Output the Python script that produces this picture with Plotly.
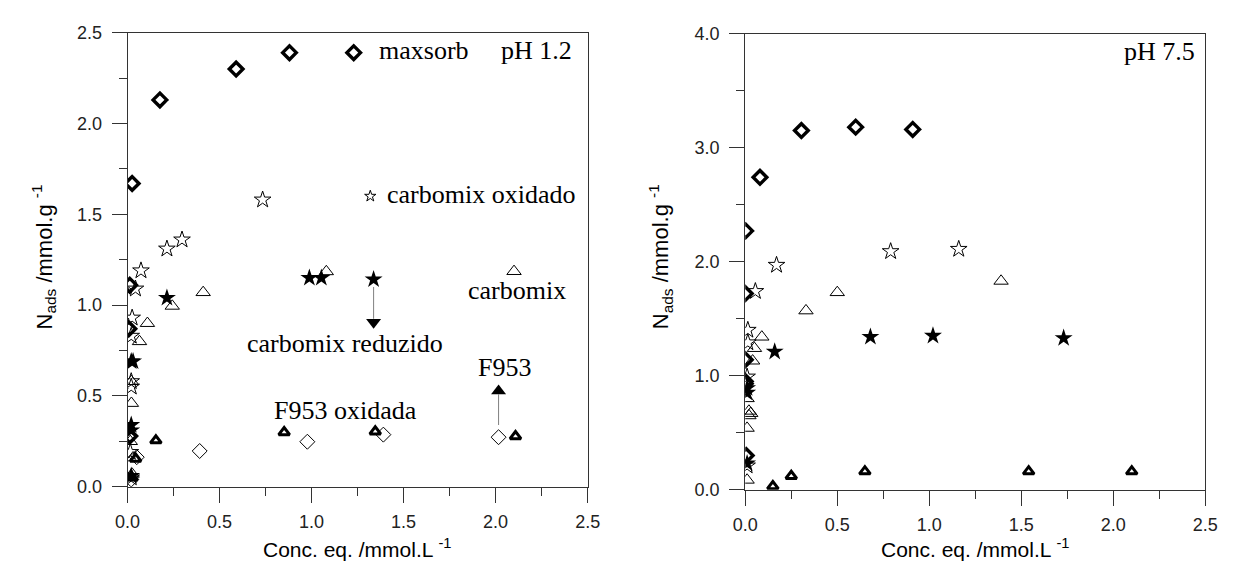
import plotly.graph_objects as go

# ---------------- pH 1.2 (left panel) ----------------
L_MAXSORB_X = [0.012, 0.007, 0.012, 0.025, 0.176, 0.59, 0.88]
L_MAXSORB_Y = [0.28, 0.87, 1.11, 1.67, 2.13, 2.30, 2.39]

L_OXIDADO_X = [0.02, 0.015, 0.02, 0.02, 0.02, 0.025, 0.043, 0.073, 0.214, 0.296, 0.734]
L_OXIDADO_Y = [0.05, 0.19, 0.55, 0.58, 0.83, 0.93, 1.09, 1.19, 1.31, 1.36, 1.58]

L_REDUZIDO_X = [0.02, 0.02, 0.02, 0.02, 0.03, 0.214, 0.988, 1.053]
L_REDUZIDO_Y = [0.06, 0.31, 0.34, 0.69, 0.69, 1.04, 1.15, 1.15]

L_CARBOMIX_X = [0.025, 0.03, 0.015, 0.021, 0.021, 0.065, 0.108, 0.243, 0.411, 1.08]
L_CARBOMIX_Y = [0.07, 0.16, 0.25, 0.46, 0.58, 0.80, 0.90, 0.995, 1.07, 1.185]

L_F953_X = [0.025, 0.044, 0.154, 0.851, 1.346, 2.108]
L_F953_Y = [0.05, 0.154, 0.255, 0.30, 0.304, 0.278]

L_F953OX_X = [0.02, 0.05, 0.392, 0.977, 1.39, 2.016]
L_F953OX_Y = [0.04, 0.163, 0.197, 0.248, 0.287, 0.273]

# in-plot key markers (left panel)
KEY_MAXSORB = (1.229, 2.39)
KEY_OXIDADO = (1.319, 1.60)
KEY_CARBOMIX = (2.10, 1.186)
KEY_REDUZIDO = (1.337, 1.142)

# ---------------- pH 7.5 (right panel) ----------------
R_MAXSORB_X = [0.005, 0.0, 0.0, 0.0, 0.0, 0.002, 0.08, 0.305, 0.60, 0.91]
R_MAXSORB_Y = [0.30, 0.93, 0.95, 1.14, 1.72, 2.27, 2.74, 3.15, 3.18, 3.16]

R_OXIDADO_X = [0.01, 0.01, 0.014, 0.014, 0.055, 0.17, 0.79, 1.16]
R_OXIDADO_Y = [0.21, 0.99, 1.29, 1.40, 1.74, 1.97, 2.09, 2.11]

R_REDUZIDO_X = [0.01, 0.01, 0.01, 0.16, 0.68, 1.02, 1.73]
R_REDUZIDO_Y = [0.23, 0.85, 0.89, 1.21, 1.34, 1.35, 1.33]

R_CARBOMIX_X = [0.01, 0.01, 0.02, 0.03, 0.02, 0.01, 0.04, 0.05, 0.09, 0.33, 0.50, 1.39]
R_CARBOMIX_Y = [0.085, 0.54, 0.65, 0.67, 0.69, 0.80, 1.13, 1.24, 1.34, 1.57, 1.73, 1.83]

R_F953_X = [0.15, 0.25, 0.65, 1.54, 2.10]
R_F953_Y = [0.03, 0.12, 0.16, 0.16, 0.16]

# arrows (left panel): tail, head-centre
ARROW_X = [1.337, 2.016]
ARROW_TAIL_Y = [1.10, 0.34]
ARROW_BASE_Y = [0.925, 0.51]
ARROW_HEAD_Y = [0.906, 0.527]
ARROW_SYMBOL = ["triangle-down", "triangle-up"]

TICK_FONT = dict(family="Liberation Sans, Arial", size=18, color="#222")
SERIF = dict(family="Liberation Serif, Times New Roman", size=26, color="black")
XT_FONT = dict(family="Liberation Sans, Arial", size=21, color="black")
YT_FONT = dict(family="Liberation Sans, Arial", size=22, color="black")

STYLES = {
    "maxsorb": dict(symbol="diamond-open", size=10.5, color="black", line=dict(width=3.4, color="black")),
    "oxidado": dict(symbol="star-open", size=12.5, color="black", line=dict(width=1, color="black")),
    "reduzido": dict(symbol="star", size=13.5, color="black", line=dict(width=0, color="black")),
    "carbomix": dict(symbol="triangle-up-open", size=12.5, color="black", line=dict(width=1, color="black")),
    "f953": dict(symbol="triangle-up-open", size=9.5, color="black", line=dict(width=3, color="black")),
    "f953ox": dict(symbol="diamond-open", size=11.5, color="black", line=dict(width=1, color="black")),
}

fig = go.Figure()


def add(x, y, style, xa, ya, **over):
    m = dict(STYLES[style])
    m.update(over)
    fig.add_trace(go.Scatter(x=x, y=y, mode="markers", marker=m, xaxis=xa, yaxis=ya,
                             showlegend=False, hoverinfo="x+y"))


# left
add(L_F953OX_X, L_F953OX_Y, "f953ox", "x", "y")
add(L_CARBOMIX_X, L_CARBOMIX_Y, "carbomix", "x", "y")
add(L_OXIDADO_X, L_OXIDADO_Y, "oxidado", "x", "y")
add(L_REDUZIDO_X, L_REDUZIDO_Y, "reduzido", "x", "y")
add(L_F953_X, L_F953_Y, "f953", "x", "y")
add(L_MAXSORB_X, L_MAXSORB_Y, "maxsorb", "x", "y")
add([KEY_MAXSORB[0]], [KEY_MAXSORB[1]], "maxsorb", "x", "y")
add([KEY_OXIDADO[0]], [KEY_OXIDADO[1]], "oxidado", "x", "y", size=8.5)
add([KEY_CARBOMIX[0]], [KEY_CARBOMIX[1]], "carbomix", "x", "y")
add([KEY_REDUZIDO[0]], [KEY_REDUZIDO[1]], "reduzido", "x", "y")

# right
add(R_CARBOMIX_X, R_CARBOMIX_Y, "carbomix", "x2", "y2")
add(R_OXIDADO_X, R_OXIDADO_Y, "oxidado", "x2", "y2")
add(R_REDUZIDO_X, R_REDUZIDO_Y, "reduzido", "x2", "y2")
add(R_F953_X, R_F953_Y, "f953", "x2", "y2")
add(R_MAXSORB_X, R_MAXSORB_Y, "maxsorb", "x2", "y2")

# arrows
for ax_, ty, by, hy, sym in zip(ARROW_X, ARROW_TAIL_Y, ARROW_BASE_Y, ARROW_HEAD_Y, ARROW_SYMBOL):
    fig.add_shape(type="line", xref="x", yref="y", x0=ax_, x1=ax_, y0=ty, y1=by,
                  line=dict(color="#808080", width=1))
    fig.add_trace(go.Scatter(x=[ax_], y=[hy], mode="markers", xaxis="x", yaxis="y",
                             marker=dict(symbol=sym, size=13, color="black"),
                             showlegend=False, hoverinfo="skip"))

W, H = 1235, 574
L_X = [117 / W, 587 / W]
R_X = [748 / W, 1218 / W]
L_Y = [1 - 494 / H, 1 - 23.5 / H]
R_Y = [1 - 497 / H, 1 - 24.5 / H]


def xaxis(dom, anchor):
    return dict(domain=dom, anchor=anchor, range=[0, 2.5], dtick=0.5, tick0=0, tickformat=".1f",
                ticks="outside", ticklen=15, tickwidth=1, tickcolor="#333", ticklabelstandoff=4,
                minor=dict(dtick=0.25, ticks="outside", ticklen=8, tickcolor="#333", tickwidth=1),
                showline=True, linecolor="#333", linewidth=1, mirror=True,
                showgrid=False, zeroline=False, tickfont=TICK_FONT, fixedrange=True)


def yaxis(dom, anchor, rng, dt, mdt):
    return dict(domain=dom, anchor=anchor, range=rng, dtick=dt, tick0=0, tickformat=".1f",
                ticks="outside", ticklen=15, tickwidth=1, tickcolor="#333", ticklabelstandoff=6,
                minor=dict(dtick=mdt, ticks="outside", ticklen=8, tickcolor="#333", tickwidth=1),
                showline=True, linecolor="#333", linewidth=1, mirror=True,
                showgrid=False, zeroline=False, tickfont=TICK_FONT, fixedrange=True)


annots = [
    dict(text="maxsorb", x=1.355, y=2.40, xref="x", yref="y", xanchor="left", yanchor="middle", font=SERIF),
    dict(text="pH 1.2", x=2.425, y=2.40, xref="x", yref="y", xanchor="right", yanchor="middle", font=SERIF),
    dict(text="carbomix oxidado", x=1.40, y=1.61, xref="x", yref="y", xanchor="left", yanchor="middle", font=SERIF),
    dict(text="carbomix", x=2.117, y=1.08, xref="x", yref="y", xanchor="center", yanchor="middle", font=SERIF),
    dict(text="carbomix reduzido", x=1.18, y=0.79, xref="x", yref="y", xanchor="center", yanchor="middle", font=SERIF),
    dict(text="F953", x=2.048, y=0.655, xref="x", yref="y", xanchor="center", yanchor="middle", font=SERIF),
    dict(text="F953 oxidada", x=1.185, y=0.42, xref="x", yref="y", xanchor="center", yanchor="middle", font=SERIF),
    dict(text="pH 7.5", x=2.452, y=3.84, xref="x2", yref="y2", xanchor="right", yanchor="middle", font=SERIF),
    # axis titles
    dict(text="Conc. eq. /mmol.L <sup>-1</sup>", x=(117 + 587) / 2 / W, y=1 - 557 / H, xref="paper", yref="paper",
         xanchor="center", yanchor="middle", font=XT_FONT),
    dict(text="Conc. eq. /mmol.L <sup>-1</sup>", x=(748 + 1218) / 2 / W, y=1 - 557 / H, xref="paper", yref="paper",
         xanchor="center", yanchor="middle", font=XT_FONT),
    dict(text="N<sub>ads</sub> /mmol.g <sup>-1</sup>", x=31 / W, y=1 - 256 / H, xref="paper", yref="paper",
         xanchor="center", yanchor="middle", textangle=-90, font=YT_FONT),
    dict(text="N<sub>ads</sub> /mmol.g <sup>-1</sup>", x=661 / W, y=1 - 256 / H, xref="paper", yref="paper",
         xanchor="center", yanchor="middle", textangle=-90, font=YT_FONT),
]
for a in annots:
    a["showarrow"] = False

fig.update_layout(
    width=W, height=H, autosize=False,
    margin=dict(l=0, r=0, t=0, b=0),
    paper_bgcolor="white", plot_bgcolor="white",
    xaxis=xaxis(L_X, "y"), yaxis=yaxis(L_Y, "x", [0, 2.5], 0.5, 0.25),
    xaxis2=xaxis(R_X, "y2"), yaxis2=yaxis(R_Y, "x2", [0, 4.0], 1.0, 0.5),
    annotations=annots,
    showlegend=False,
)

fig.write_html("out.html", config={"displayModeBar": False},
               post_script="document.body.style.margin='0px';document.body.style.overflow='hidden';")
